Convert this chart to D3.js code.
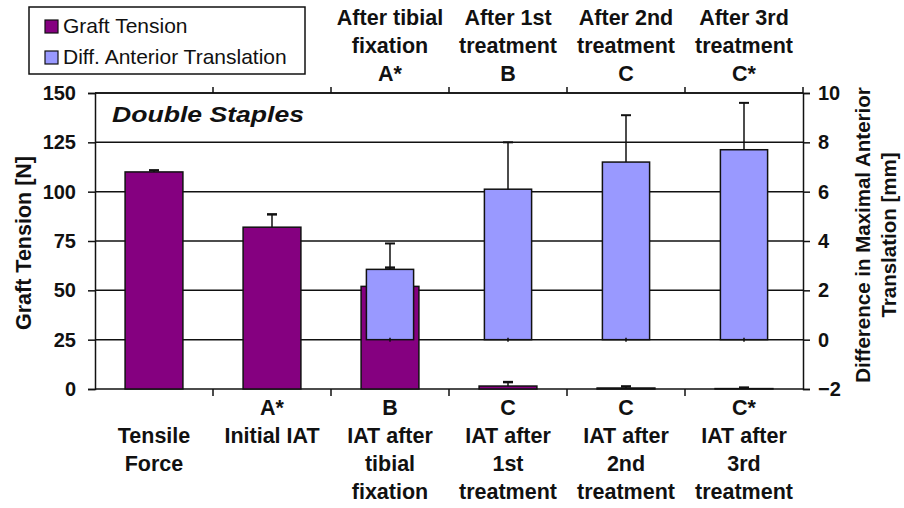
<!DOCTYPE html>
<html><head><meta charset="utf-8">
<script src="https://cdn.jsdelivr.net/npm/d3@7"></script>
<style>body{margin:0;background:#fff}svg{display:block}text{font-family:"Liberation Sans",Arial,sans-serif}</style>
</head><body>
<script>
const categories = ["Tensile Force","Initial IAT","IAT after tibial fixation","IAT after 1st treatment","IAT after 2nd treatment","IAT after 3rd treatment"];
const bottomLabels = [["","Tensile","Force"],["A*","Initial IAT"],["B","IAT after","tibial","fixation"],["C","IAT after","1st","treatment"],["C","IAT after","2nd","treatment"],["C*","IAT after","3rd","treatment"]];
const topLabels = [[],[],["After tibial","fixation","A*"],["After 1st","treatment","B"],["After 2nd","treatment","C"],["After 3rd","treatment","C*"]];
const graftTension = [110, 82, 52, 1.5, 0.5, 0.2];
const graftErr = [0.8, 6.5, 9.5, 2, 0.8, 0.5];
const translation = [null, null, 2.85, 6.1, 7.2, 7.7];
const translationErr = [null, null, 1.05, 1.9, 1.9, 1.9];
const leftTicks = [0,25,50,75,100,125,150];
const rightTicks = [-2,0,2,4,6,8,10];
const seriesNames = ["Graft Tension","Diff. Anterior Translation"];
const colors = ["#850080","#9999FF"];

const W=904,H=508;
const svg=d3.select("body").append("svg").attr("width",W).attr("height",H);
const L=95,R=803,T=93,B=389;
const x=d3.scaleBand().domain(categories).range([L,R]).padding(0);
const yL=d3.scaleLinear().domain([0,150]).range([B,T]);
const yR=d3.scaleLinear().domain([-2,10]).range([B,T]);
const bw=x.bandwidth();
const ink="#111";

// gridlines
svg.append("g").selectAll("line").data(leftTicks.filter(d=>d>0)).join("line")
 .attr("x1",L).attr("x2",R).attr("y1",d=>yL(d)).attr("y2",d=>yL(d))
 .attr("stroke",ink).attr("stroke-width",1.5);

// left axis
const gl=svg.append("g").attr("transform",`translate(${L},0)`)
 .call(d3.axisLeft(yL).tickValues(leftTicks).tickSize(7).tickPadding(12));
gl.select(".domain").attr("stroke",ink).attr("stroke-width",1.5);
gl.selectAll(".tick line").attr("stroke",ink).attr("stroke-width",1.5);
gl.selectAll(".tick text").attr("font-size",20).attr("font-weight","bold").attr("fill",ink).attr("font-family","Liberation Sans, Arial");
// right axis
const gr=svg.append("g").attr("transform",`translate(${R},0)`)
 .call(d3.axisRight(yR).tickValues(rightTicks).tickSize(7).tickPadding(8));
gr.select(".domain").attr("stroke",ink).attr("stroke-width",1.5);
gr.selectAll(".tick line").attr("stroke",ink).attr("stroke-width",1.5);
gr.selectAll(".tick text").attr("font-size",20).attr("font-weight","bold").attr("fill",ink).attr("font-family","Liberation Sans, Arial");

// bottom axis
const bounds=categories.slice(1).map(c=>x(c));
svg.append("line").attr("x1",L).attr("x2",R).attr("y1",B).attr("y2",B).attr("stroke",ink).attr("stroke-width",1.5);
svg.append("g").selectAll("line").data(bounds).join("line")
 .attr("x1",d=>d).attr("x2",d=>d).attr("y1",B).attr("y2",B+7).attr("stroke",ink).attr("stroke-width",1.5);
// top axis
svg.append("line").attr("x1",L).attr("x2",R).attr("y1",T).attr("y2",T).attr("stroke",ink).attr("stroke-width",1.5);
svg.append("g").selectAll("line").data(bounds.concat([R])).join("line")
 .attr("x1",d=>d).attr("x2",d=>d).attr("y1",T).attr("y2",T-6).attr("stroke",ink).attr("stroke-width",1.5);

// purple bars
const gd=categories.map((c,i)=>({c,v:graftTension[i],e:graftErr[i]}));
const pw=bw*0.49;
svg.append("g").selectAll("rect").data(gd).join("rect")
 .attr("x",d=>x(d.c)+bw/2-pw/2).attr("width",pw)
 .attr("y",d=>yL(d.v)).attr("height",d=>yL(0)-yL(d.v))
 .attr("fill",colors[0]).attr("stroke",ink).attr("stroke-width",1.5);
// purple error stems
svg.append("g").selectAll("line").data(gd).join("line")
 .attr("x1",d=>x(d.c)+bw/2).attr("x2",d=>x(d.c)+bw/2)
 .attr("y1",d=>yL(d.v)).attr("y2",d=>yL(d.v+d.e)).attr("stroke",ink).attr("stroke-width",1.5);

// blue bars
const td=categories.map((c,i)=>({c,v:translation[i],e:translationErr[i]})).filter(d=>d.v!=null);
const tw=bw*0.4;
svg.append("g").selectAll("rect").data(td).join("rect")
 .attr("x",d=>x(d.c)+bw/2-tw/2).attr("width",tw)
 .attr("y",d=>yR(d.v)).attr("height",d=>yR(0)-yR(d.v))
 .attr("fill",colors[1]).attr("stroke",ink).attr("stroke-width",1.5);
svg.append("g").selectAll("line").data(td).join("line")
 .attr("x1",d=>x(d.c)+bw/2).attr("x2",d=>x(d.c)+bw/2)
 .attr("y1",d=>yR(d.v)).attr("y2",d=>yR(d.v+d.e)).attr("stroke",ink).attr("stroke-width",1.5);
svg.append("g").selectAll("line").data(td).join("line")
 .attr("x1",d=>x(d.c)+bw/2-5).attr("x2",d=>x(d.c)+bw/2+5)
 .attr("y1",d=>yR(d.v+d.e)).attr("y2",d=>yR(d.v+d.e)).attr("stroke",ink).attr("stroke-width",2);
svg.append("g").selectAll("line").data(td).join("line")
 .attr("x1",d=>x(d.c)+bw/2).attr("x2",d=>x(d.c)+bw/2)
 .attr("y1",d=>yR(0)-2).attr("y2",d=>yR(0)+2).attr("stroke",ink).attr("stroke-width",1.5);
// purple error caps
svg.append("g").selectAll("line").data(gd).join("line")
 .attr("x1",d=>x(d.c)+bw/2-5).attr("x2",d=>x(d.c)+bw/2+5)
 .attr("y1",d=>yL(d.v+d.e)).attr("y2",d=>yL(d.v+d.e)).attr("stroke",ink).attr("stroke-width",2.5);

// Double Staples
svg.append("text").attr("x",112).attr("y",122).attr("font-size",22).attr("font-weight","bold").attr("font-style","italic")
 .attr("textLength",192).attr("lengthAdjust","spacingAndGlyphs").attr("fill",ink).text("Double Staples");

// bottom & top labels
categories.forEach((c,i)=>{
  const t=svg.append("text").attr("text-anchor","middle").attr("font-size",21.5).attr("font-weight","bold").attr("fill",ink);
  bottomLabels[i].forEach((s,j)=>{ t.append("tspan").attr("x",x(c)+bw/2).attr("y",415+j*28).text(s); });
  const tt=svg.append("text").attr("text-anchor","middle").attr("font-size",21.5).attr("font-weight","bold").attr("fill",ink);
  topLabels[i].forEach((s,j)=>{ tt.append("tspan").attr("x",x(c)+bw/2).attr("y",25+j*28).text(s); });
});

// axis titles
svg.append("text").attr("transform","translate(31,243) rotate(-90)").attr("text-anchor","middle").attr("font-size",21.5).attr("font-weight","bold").attr("fill",ink).text("Graft Tension [N]");
const rt=svg.append("text").attr("transform","translate(870,235) rotate(-90)").attr("text-anchor","middle").attr("font-size",20.5).attr("font-weight","bold").attr("fill",ink);
rt.append("tspan").attr("x",0).attr("y",0).text("Difference in Maximal Anterior");
rt.append("tspan").attr("x",0).attr("y",26).text("Translation [mm]");

// legend
const lg=svg.append("g");
lg.append("rect").attr("x",29).attr("y",7).attr("width",276).attr("height",67).attr("fill","#fff").attr("stroke",ink).attr("stroke-width",1.5);
seriesNames.forEach((n,i)=>{
  lg.append("rect").attr("x",45).attr("y",20+i*31).attr("width",13).attr("height",13).attr("fill",colors[i]).attr("stroke",ink).attr("stroke-width",1.2);
  lg.append("text").attr("x",63).attr("y",33+i*31).attr("font-size",21).attr("fill",ink).text(n);
});
</script>
</body></html>
